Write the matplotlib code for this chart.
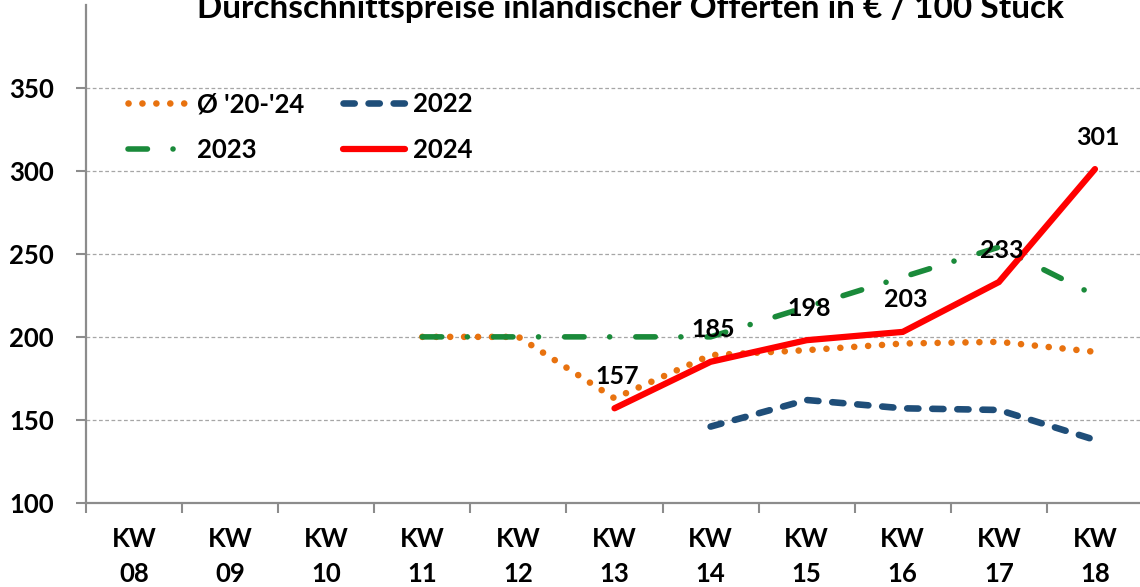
import numpy as np
import matplotlib
matplotlib.use("Agg")
import matplotlib.pyplot as plt
from matplotlib.ticker import FixedLocator

plt.rcParams["font.family"] = ["Lato", "DejaVu Sans"]
plt.rcParams["font.weight"] = "bold"

nan = np.nan
weeks = ["08", "09", "10", "11", "12", "13", "14", "15", "16", "17", "18"]
avg_20_24 = [nan, nan, nan, 200, 200, 163, 189, 192, 196, 197, 191]
y2022 = [nan, nan, nan, nan, nan, nan, 146, 162, 157, 156, 138]
y2023 = [nan, nan, nan, 200, 200, 200, 200, 218, 236, 254, 225]
y2024 = [nan, nan, nan, nan, nan, 157, 185, 198, 203, 233, 301]
labels_2024 = ["157", "185", "198", "203", "233", "301"]

title = "Durchschnittspreise inländischer Offerten in € / 100 Stück"

GRAY = "#8c8c8c"
ORANGE = "#E8720F"
BLUE = "#1F4E79"
GREEN = "#1A8A3A"
RED = "#FF0000"


def main():
    fig = plt.figure(figsize=(11.4, 5.87), dpi=100)
    ax = fig.add_axes([86 / 1140, 1 - 503 / 587, 1057 / 1140, 498.4 / 587])
    x = np.arange(len(weeks))

    ax.plot(x, avg_20_24, color=ORANGE, lw=4.75, linestyle=(0, (0.01, 2.1)),
            dash_capstyle="round", label="Ø '20-'24", zorder=3)
    ax.plot(x, y2023, color=GREEN, lw=4.0, linestyle=(0, (3.5, 4.6, 0.01, 4.7)),
            dash_capstyle="round", label="2023", zorder=3)
    ax.plot(x, y2022, color=BLUE, lw=4.75, linestyle=(0, (1.7, 2.1)),
            dash_capstyle="round", label="2022", zorder=3)
    ax.plot(x, y2024, color=RED, lw=4.5, solid_capstyle="round",
            solid_joinstyle="miter", label="2024", zorder=4)

    vals = [v for v in y2024 if not np.isnan(v)]
    xs = [i for i, v in enumerate(y2024) if not np.isnan(v)]
    for xi, v, t in zip(xs, vals, labels_2024):
        ax.annotate(t, (xi, v), xytext=(2, 23), textcoords="offset points",
                    ha="center", va="center", fontsize=18, fontweight="bold",
                    color="black", zorder=6)

    ax.set_xlim(-0.5, len(weeks) - 0.5)
    ax.set_ylim(100, 400)
    ax.set_xticks(x)
    ax.set_xticklabels([f"KW\n{w}" for w in weeks], linespacing=1.55)
    ax.xaxis.set_minor_locator(FixedLocator(np.arange(-0.5, len(weeks), 1.0)))
    ax.set_yticks(np.arange(100, 351, 50))
    ax.tick_params(axis="x", which="major", length=0, pad=17, labelsize=18.5)
    ax.tick_params(axis="x", which="minor", length=7, width=1.5, color=GRAY)
    ax.tick_params(axis="y", length=7, width=1.5, color=GRAY, pad=16, labelsize=18.5)

    for gy in [150, 200, 250, 300, 350]:
        ax.axhline(gy, color="#a6a6a6", lw=0.9, linestyle=(0, (3, 2)), zorder=1)

    for s in ["top", "right"]:
        ax.spines[s].set_visible(False)
    for s in ["left", "bottom"]:
        ax.spines[s].set_color(GRAY)
        ax.spines[s].set_linewidth(1.6)

    handles, labels = ax.get_legend_handles_labels()
    ax.legend(handles, labels, ncol=2, loc="upper left",
              bbox_to_anchor=(128 / 1140, 1 - 92 / 587), bbox_transform=fig.transFigure,
              frameon=False, fontsize=18.5, handlelength=2.4, handletextpad=0.3,
              columnspacing=1.5, labelspacing=0.85, borderpad=0, borderaxespad=0)

    fig.text(630 / 1140, 1 - 18 / 587, title, ha="center", va="baseline",
             fontsize=24, fontweight="bold")

    fig.savefig("out.png", dpi=100)
    plt.close(fig)


if __name__ == "__main__":
    main()
